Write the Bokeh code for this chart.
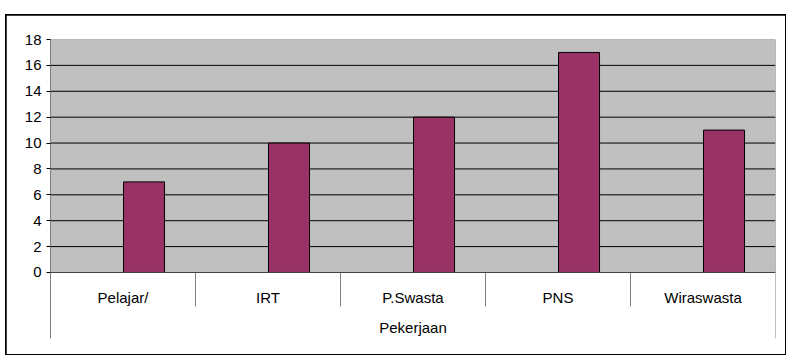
from bokeh.plotting import figure
from bokeh.models import Range1d, FixedTicker, ColumnDataSource
from bokeh.core.properties import value
from bokeh.embed import file_html
from bokeh.resources import INLINE

categories = ["Pelajar/", "IRT", "P.Swasta", "PNS", "Wiraswasta"]
counts = [7, 10, 12, 17, 11]
y_ticks = [0, 2, 4, 6, 8, 10, 12, 14, 16, 18]
group_label = "Pekerjaan"

FONT = "Liberation Sans"
n = len(categories)
ymax = y_ticks[-1]
ybot = -5.1

p = figure(width=779, height=339, output_backend="svg", toolbar_location=None,
           x_range=Range1d(0, n), y_range=Range1d(ybot, ymax),
           x_axis_location=None, min_border_left=44, min_border_right=10,
           min_border_top=24, min_border_bottom=16)
p.margin = (15, 8, 6, 6)
p.styles = {"outline": "2px solid black", "outline-offset": "-1px"}
p.grid.visible = False
p.outline_line_color = None
p.background_fill_color = "white"
p.border_fill_color = "white"

# plot area
p.quad(left=[0], right=[n], bottom=[0], top=[ymax], fill_color="#C0C0C0", line_color=None)
# gridlines
gl = y_ticks[1:-1]
p.segment(x0=[0] * len(gl), x1=[n] * len(gl), y0=gl, y1=gl, line_color="black", line_width=1)
# top border
p.segment(x0=[0], x1=[n], y0=[ymax], y1=[ymax], line_color="#808080", line_width=1)
# right border extended into category table
p.segment(x0=[n], x1=[n], y0=[ybot], y1=[ymax], line_color="#808080", line_width=1)

# bars
src = ColumnDataSource(dict(x=[i + 0.645 for i in range(n)], top=counts))
p.vbar(x="x", top="top", width=0.283, bottom=0, source=src,
       fill_color="#993366", line_color="black", line_width=1)

# category separators
seps = list(range(1, n))
p.segment(x0=seps, x1=seps, y0=[0] * len(seps), y1=[-2.63] * len(seps),
          line_color="#808080", line_width=1)
# x axis line
p.segment(x0=[0], x1=[n], y0=[0], y1=[0], line_color="#404040", line_width=1)

# category labels
p.text(x=[i + 0.5 for i in range(n)], y=[-1.93] * n, text=categories,
       text_font=value(FONT), text_font_size="15px", text_align="center",
       text_baseline="middle", text_color="black")
p.text(x=[n / 2], y=[-4.25], text=[group_label],
       text_font=value(FONT), text_font_size="15px", text_align="center",
       text_baseline="middle", text_color="black")

# y axis
ax = p.yaxis[0]
ax.ticker = FixedTicker(ticks=y_ticks)
ax.axis_line_color = "#808080"
ax.major_tick_line_color = "black"
ax.major_tick_out = 4
ax.major_tick_in = 0
ax.minor_tick_line_color = None
ax.major_label_text_font = FONT
ax.major_label_text_font_size = "15px"
ax.major_label_text_color = "black"
ax.major_label_standoff = 5

open("out.html", "w").write(file_html(p, INLINE))
